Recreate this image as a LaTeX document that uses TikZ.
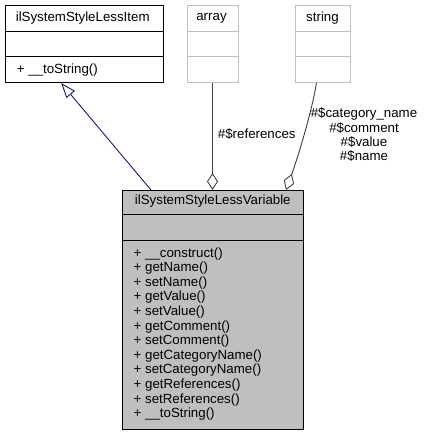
\documentclass[tikz,border=0pt]{standalone}
\usepackage{fontspec}
\setmainfont{Liberation Sans}
\usetikzlibrary{positioning,arrows.meta}

\definecolor{boxgray}{HTML}{BFBFBF}
\definecolor{edgegray}{HTML}{404040}
\definecolor{navyline}{HTML}{191970}

\tikzset{
    >=Stealth,
    classbox/.style={
        rectangle,
        draw=black, line width=1pt,
        anchor=north west,
        inner sep=0pt
    },
    typebox/.style={classbox, draw=boxgray},
    varbox/.style={classbox, fill=boxgray},
    title/.style={font=\fontsize{13.3}{16}\selectfont, inner sep=0pt},
    members/.style={
        font=\fontsize{13.3}{14.6}\selectfont,
        align=left,
        anchor=north west,
        inner sep=0pt
    },
    inherit/.style={draw=navyline, line width=0.9pt,
        -{Triangle[open, length=15pt, width=11pt]}},
    aggr/.style={draw=edgegray, line width=0.9pt,
        -{Diamond[open, length=17pt, width=11pt]}},
    edgelabel/.style={font=\fontsize{13.3}{14.3}\selectfont, align=center, inner sep=0pt}
}

\begin{document}
\begin{tikzpicture}[x=1pt, y=-1pt,
            divider/.style={draw=black, line width=1pt},
            light divider/.style={draw=boxgray, line width=1pt}]
    \useasboundingbox (0,0) rectangle (423,433);

    % class boxes
    \node[classbox, minimum width=158pt, minimum height=76.5pt] (item) at (4.7,5.5) {};
    \node[typebox, minimum width=51pt, minimum height=76.5pt] (array) at (186.5,5.5) {};
    \node[typebox, minimum width=54.4pt, minimum height=76.5pt] (string) at (295.3,5.5) {};
    \node[varbox, minimum width=181pt, minimum height=239pt] (var) at (122.3,190) {};

    \draw[divider] ([yshift=-26pt]item.north west) -- ([yshift=-26pt]item.north east);
    \draw[divider] ([yshift=-51.5pt]item.north west) -- ([yshift=-51.5pt]item.north east);
    \draw[light divider] ([yshift=-26pt]array.north west) -- ([yshift=-26pt]array.north east);
    \draw[light divider] ([yshift=-51.5pt]array.north west) -- ([yshift=-51.5pt]array.north east);
    \draw[light divider] ([yshift=-26pt]string.north west) -- ([yshift=-26pt]string.north east);
    \draw[light divider] ([yshift=-51.5pt]string.north west) -- ([yshift=-51.5pt]string.north east);
    \draw[divider] ([yshift=-24pt]var.north west) -- ([yshift=-24pt]var.north east);
    \draw[divider] ([yshift=-50.5pt]var.north west) -- ([yshift=-50.5pt]var.north east);

    % titles and members
    \node[title] (item title) at (82.7,18) {ilSystemStyleLessItem};
    \node[title] (array title) at (211.5,18) {array};
    \node[title] (string title) at (322.5,18) {string};
    \node[title] (var title) at (212.8,201.5) {ilSystemStyleLessVariable};

    \node[members] (item ops) at (16.7,63.8) {+ \_\_toString()};
    \node[members] (var ops) at (133.5,247.3) {%
        + \_\_construct()\\
        + getName()\\
        + setName()\\
        + getValue()\\
        + setValue()\\
        + getComment()\\
        + setComment()\\
        + getCategoryName()\\
        + setCategoryName()\\
        + getReferences()\\
        + setReferences()\\
        + \_\_toString()};

    % relations
    \draw[inherit] ([xshift=28.7pt]var.north west) -- ([xshift=-23.1pt]item.south);
    \draw[aggr] (array.south) -- (array.south |- var.north)
        node[edgelabel, pos=0.48, right=5pt] (ref label) {\#\$references};
    \draw[aggr] ([xshift=-6.5pt]string.south) .. controls +(-5,30) and +(11,-30) .. ([xshift=-18.3pt]var.north east);
    \node[edgelabel] (string label) at (364,134.7) {\#\$category\_name\\ \#\$comment\\ \#\$value\\ \#\$name};
\end{tikzpicture}
\end{document}
